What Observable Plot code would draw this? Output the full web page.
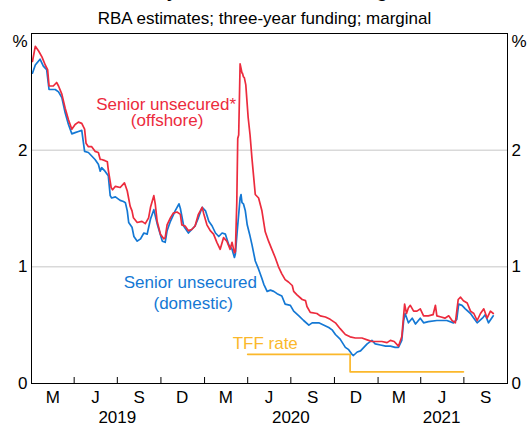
<!DOCTYPE html>
<html><head><meta charset="utf-8">
<script src="https://cdn.jsdelivr.net/npm/d3@7"></script>
<script src="https://cdn.jsdelivr.net/npm/@observablehq/plot@0.6"></script>
<style>
body{margin:0;background:#fff;font-family:Arial,"Liberation Sans",sans-serif;}
#wrap{position:relative;width:529px;height:430px;overflow:hidden;background:#fff;}
#title{position:absolute;left:0;width:529px;top:-20.5px;text-align:center;font-weight:bold;font-size:19.5px;line-height:20px;color:#000;}
#sub{position:absolute;left:0;width:529px;top:9.5px;text-align:center;font-size:17px;line-height:18px;color:#000;}
#chart{position:absolute;left:0;top:26px;}
</style></head>
<body>
<div id="wrap">
<div id="chart"></div>
<div id="title">Major Banks' Bond Pricing</div>
<div id="sub">RBA estimates; three-year funding; marginal</div>
</div>
<script>
const RED = "#ec2b3d", BLUE = "#1478d4", ORANGE = "#fbb82b";

const xDomain = ["2019-01-01", "2021-10-01"];
const yDomain = [0, 3];
const yTicks = [0, 1, 2];
const gridValues = [1, 2];

const quarterTicks = ["2019-04-01","2019-07-01","2019-10-01","2020-01-01","2020-04-01","2020-07-01","2020-10-01","2021-01-01","2021-04-01","2021-07-01"];
const quarterLabels = ["M","J","S","D","M","J","S","D","M","J","S"];
const quarterLabelDates = ["2019-02-15","2019-05-16","2019-08-16","2019-11-15","2020-02-15","2020-05-16","2020-08-16","2020-11-15","2021-02-14","2021-05-16","2021-08-16"];
const yearLabels = ["2019","2020","2021"];
const yearLabelDates = ["2019-07-01","2020-07-01","2021-05-15"];

const offshoreDates = ["2019-01-03","2019-01-09","2019-01-16","2019-01-23","2019-01-30","2019-02-04","2019-02-07","2019-02-16","2019-02-23","2019-02-27","2019-03-06","2019-03-13","2019-03-20","2019-03-27","2019-04-03","2019-04-10","2019-04-17","2019-04-23","2019-04-26","2019-05-01","2019-05-08","2019-05-15","2019-05-22","2019-05-26","2019-05-29","2019-06-05","2019-06-10","2019-06-12","2019-06-18","2019-06-21","2019-06-27","2019-07-07","2019-07-16","2019-07-22","2019-07-28","2019-08-01","2019-08-04","2019-08-12","2019-08-22","2019-08-29","2019-09-05","2019-09-09","2019-09-16","2019-09-19","2019-09-23","2019-09-30","2019-10-07","2019-10-10","2019-10-14","2019-10-21","2019-10-27","2019-11-04","2019-11-11","2019-11-14","2019-11-21","2019-11-28","2019-12-05","2019-12-12","2019-12-19","2019-12-27","2019-12-30","2020-01-06","2020-01-13","2020-01-20","2020-01-27","2020-02-03","2020-02-10","2020-02-17","2020-02-24","2020-02-28","2020-03-04","2020-03-06","2020-03-09","2020-03-11","2020-03-13","2020-03-16","2020-03-18","2020-03-20","2020-03-21","2020-03-23","2020-03-25","2020-03-28","2020-04-02","2020-04-06","2020-04-10","2020-04-17","2020-04-24","2020-05-01","2020-05-08","2020-05-15","2020-05-22","2020-05-29","2020-06-05","2020-06-12","2020-06-19","2020-06-26","2020-07-04","2020-07-07","2020-07-14","2020-07-25","2020-08-01","2020-08-04","2020-08-11","2020-08-25","2020-09-01","2020-09-12","2020-09-22","2020-10-03","2020-10-13","2020-10-24","2020-11-03","2020-11-14","2020-11-28","2020-12-12","2020-12-19","2020-12-30","2021-01-09","2021-01-20","2021-01-27","2021-02-04","2021-02-13","2021-02-20","2021-02-26","2021-03-02","2021-03-06","2021-03-10","2021-03-17","2021-03-24","2021-03-31","2021-04-07","2021-04-17","2021-04-27","2021-05-02","2021-05-05","2021-05-14","2021-05-22","2021-05-30","2021-06-06","2021-06-13","2021-06-19","2021-06-24","2021-06-30","2021-07-08","2021-07-15","2021-07-22","2021-07-29","2021-08-05","2021-08-12","2021-08-19","2021-08-26","2021-09-01"];
const offshoreValues = [2.76,2.89,2.85,2.80,2.73,2.69,2.55,2.55,2.58,2.55,2.48,2.36,2.26,2.18,2.22,2.24,2.23,2.18,2.06,2.03,2.03,1.99,1.98,1.92,1.92,1.91,1.90,1.83,1.68,1.66,1.69,1.68,1.72,1.65,1.52,1.48,1.42,1.38,1.39,1.37,1.42,1.51,1.61,1.54,1.39,1.28,1.24,1.25,1.36,1.42,1.46,1.47,1.45,1.36,1.35,1.31,1.32,1.35,1.45,1.51,1.46,1.36,1.31,1.28,1.21,1.15,1.25,1.22,1.15,1.21,1.12,1.13,1.55,2.10,2.13,2.74,2.70,2.66,2.66,2.63,2.62,2.56,2.28,2.13,1.93,1.62,1.59,1.48,1.30,1.22,1.15,1.08,1.00,0.94,0.89,0.87,0.84,0.79,0.76,0.72,0.71,0.66,0.61,0.60,0.58,0.57,0.55,0.52,0.47,0.42,0.40,0.39,0.39,0.37,0.36,0.36,0.36,0.35,0.37,0.36,0.32,0.40,0.68,0.60,0.65,0.67,0.62,0.62,0.64,0.58,0.58,0.59,0.67,0.58,0.57,0.56,0.58,0.54,0.52,0.72,0.74,0.71,0.69,0.62,0.60,0.54,0.60,0.64,0.56,0.62,0.60];

const domesticDates = ["2019-01-03","2019-01-09","2019-01-19","2019-01-26","2019-02-02","2019-02-07","2019-02-20","2019-02-27","2019-03-06","2019-03-13","2019-03-20","2019-03-27","2019-04-03","2019-04-10","2019-04-17","2019-04-23","2019-05-01","2019-05-08","2019-05-15","2019-05-22","2019-05-26","2019-05-29","2019-06-05","2019-06-12","2019-06-16","2019-06-19","2019-06-27","2019-07-07","2019-07-14","2019-07-18","2019-07-22","2019-07-25","2019-08-01","2019-08-05","2019-08-12","2019-08-19","2019-08-26","2019-09-02","2019-09-09","2019-09-16","2019-09-23","2019-10-04","2019-10-10","2019-10-14","2019-10-21","2019-10-31","2019-11-08","2019-11-11","2019-11-18","2019-11-28","2019-12-05","2019-12-12","2019-12-19","2019-12-27","2020-01-03","2020-01-10","2020-01-17","2020-01-24","2020-01-31","2020-02-07","2020-02-14","2020-02-21","2020-02-28","2020-03-04","2020-03-06","2020-03-10","2020-03-13","2020-03-16","2020-03-18","2020-03-20","2020-03-23","2020-03-27","2020-03-31","2020-04-05","2020-04-10","2020-04-17","2020-04-24","2020-05-01","2020-05-05","2020-05-12","2020-05-19","2020-05-26","2020-06-02","2020-06-12","2020-06-19","2020-06-30","2020-07-07","2020-07-18","2020-07-28","2020-08-08","2020-08-15","2020-08-29","2020-09-09","2020-09-19","2020-09-26","2020-10-03","2020-10-13","2020-10-24","2020-10-31","2020-11-07","2020-11-10","2020-11-18","2020-11-25","2020-12-02","2020-12-09","2020-12-19","2020-12-26","2021-01-06","2021-01-17","2021-01-27","2021-02-06","2021-02-13","2021-02-20","2021-02-24","2021-02-27","2021-03-06","2021-03-14","2021-03-21","2021-03-31","2021-04-07","2021-04-17","2021-05-05","2021-05-26","2021-06-09","2021-06-16","2021-06-20","2021-06-27","2021-07-04","2021-07-15","2021-07-22","2021-07-29","2021-08-09","2021-08-15","2021-08-22","2021-09-01"];
const domesticValues = [2.66,2.73,2.78,2.72,2.69,2.52,2.52,2.50,2.45,2.32,2.22,2.14,2.15,2.16,2.17,1.99,1.98,1.95,1.92,1.88,1.82,1.85,1.82,1.78,1.61,1.59,1.60,1.57,1.56,1.55,1.48,1.38,1.34,1.26,1.22,1.24,1.29,1.28,1.41,1.49,1.37,1.22,1.21,1.31,1.39,1.48,1.54,1.50,1.35,1.29,1.32,1.35,1.42,1.51,1.48,1.39,1.35,1.29,1.26,1.29,1.28,1.19,1.15,1.08,1.11,1.31,1.45,1.59,1.62,1.55,1.54,1.48,1.36,1.28,1.19,1.05,0.98,0.90,0.85,0.79,0.80,0.79,0.77,0.75,0.68,0.67,0.62,0.58,0.54,0.50,0.52,0.52,0.50,0.48,0.46,0.42,0.38,0.31,0.29,0.25,0.24,0.27,0.28,0.31,0.34,0.37,0.34,0.33,0.32,0.32,0.31,0.31,0.37,0.54,0.60,0.52,0.56,0.51,0.56,0.52,0.53,0.54,0.54,0.52,0.55,0.68,0.67,0.64,0.60,0.56,0.52,0.56,0.59,0.52,0.58];

const tffDates = ["2020-04-01","2020-11-03","2021-06-30"];
const tffValues = [0.25, 0.10, 0.10];

const noteTexts = ["Senior unsecured*","(offshore)","Senior unsecured","(domestic)","TFF rate"];
const noteDates = ["2019-10-12","2019-10-14","2019-12-02","2019-12-08","2020-05-08"];
const noteValues = [2.39, 2.25, 0.865, 0.683, 0.34];
const noteColors = [RED, RED, BLUE, BLUE, ORANGE];

const parse = d3.utcParse("%Y-%m-%d");
const toRows = (dates, values) => dates.map((d, i) => ({date: parse(d), value: values[i]}));
const offshore = toRows(offshoreDates, offshoreValues);
const domestic = toRows(domesticDates, domesticValues);
const tff = toRows(tffDates, tffValues);
const notes = noteTexts.map((t, i) => ({text: t, date: parse(noteDates[i]), value: noteValues[i], color: noteColors[i]}));
const qLabels = quarterLabels.map((t, i) => ({text: t, date: parse(quarterLabelDates[i])}));
const yLabels = yearLabels.map((t, i) => ({text: t, date: parse(yearLabelDates[i])}));

const FS = 17;
const chart = Plot.plot({
  width: 529, height: 404,
  marginLeft: 31, marginRight: 22, marginTop: 7, marginBottom: 47,
  x: {type: "utc", domain: xDomain.map(parse), axis: null},
  y: {domain: yDomain, axis: null},
  style: {fontFamily: 'Arial, "Liberation Sans", sans-serif', fontSize: FS + "px", background: "transparent", overflow: "visible", color: "#000"},
  marks: [
    Plot.ruleY(gridValues, {stroke: "#c6c6c6", strokeWidth: 1}),
    Plot.line(tff, {x: "date", y: "value", curve: "step-after", stroke: ORANGE, strokeWidth: 1.7}),
    Plot.line(domestic, {x: "date", y: "value", stroke: BLUE, strokeWidth: 1.7}),
    Plot.line(offshore, {x: "date", y: "value", stroke: RED, strokeWidth: 1.7}),
    Plot.tickX(quarterTicks.map(parse), {x: d => d, insetTop: 344, stroke: "#000", strokeWidth: 1}),
    Plot.frame({stroke: "#000", strokeWidth: 1}),
    Plot.text(yTicks, {y: d => d, text: d => String(d), frameAnchor: "left", textAnchor: "end", dx: -4, fontSize: FS, fill: "#000"}),
    Plot.text(yTicks, {y: d => d, text: d => String(d), frameAnchor: "right", textAnchor: "start", dx: 4, fontSize: FS, fill: "#000"}),
    Plot.text([yDomain[1]], {y: d => d, text: () => "%", frameAnchor: "left", textAnchor: "end", dx: -4, dy: 8, fontSize: FS, fill: "#000"}),
    Plot.text([yDomain[1]], {y: d => d, text: () => "%", frameAnchor: "right", textAnchor: "start", dx: 4, dy: 8, fontSize: FS, fill: "#000"}),
    Plot.text(qLabels, {x: "date", text: "text", frameAnchor: "bottom", dy: 19, fontSize: FS, fill: "#000"}),
    Plot.text(yLabels, {x: "date", text: "text", frameAnchor: "bottom", dy: 39, fontSize: FS, fill: "#000"}),
    Plot.text(notes, {x: "date", y: "value", text: "text", fill: "color", fontSize: FS})
  ]
});
document.getElementById("chart").appendChild(chart);
</script>
</body></html>
